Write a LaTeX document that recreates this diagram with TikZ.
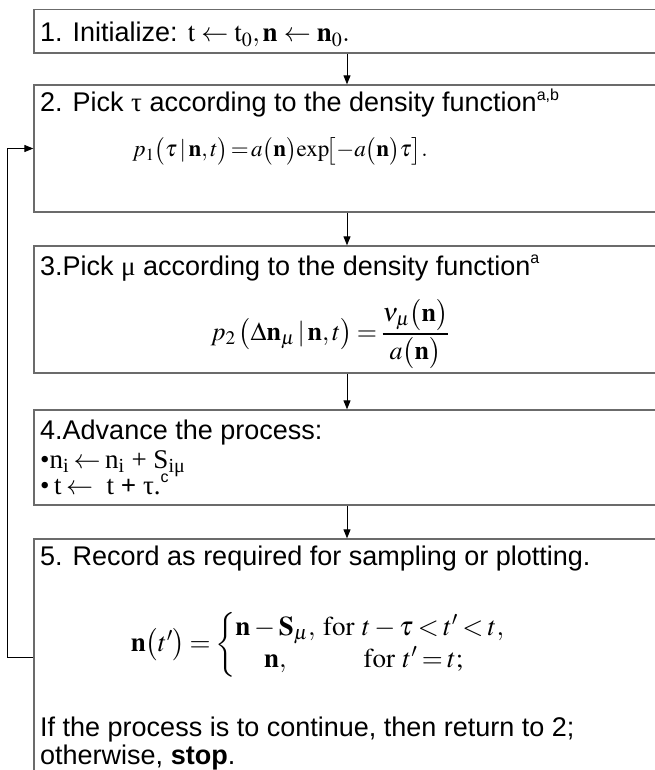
\documentclass[tikz,border=0pt]{standalone}
\usepackage{amsmath}
\usepackage{mathptmx}
\usepackage[no-math]{fontspec}
\setmainfont{Liberation Sans}
\newfontfamily\serif{Liberation Serif}
\usetikzlibrary{arrows.meta,positioning}
\definecolor{boxgray}{gray}{0.42}
\newcommand{\supnote}[1]{\raisebox{0.42em}{\fontsize{16}{18}\selectfont #1}}

\begin{document}
\begin{tikzpicture}[x=1pt,y=-1pt,
  stepbox/.style={draw=boxgray, line width=1.3pt, minimum width=626pt, inner sep=0pt},
  txt/.style={anchor=base west, inner sep=0pt, font=\fontsize{27}{32}\selectfont},
  eq/.style={inner sep=0pt},
  flow/.style={-{Triangle[length=9pt,width=7pt]}, line width=0.9pt}]
  \useasboundingbox (0,0) rectangle (655,770);
  \clip (0,0) rectangle (655,770);

  % step 1
  \node[stepbox, minimum height=43.5pt] (init) at (347,31.25) {};
  \node[txt] (initTxt) at (40,42) {1. Initialize: $\mathrm{t}\leftarrow\mathrm{t}_0, \mathbf{n}\leftarrow\mathbf{n}_0.$};
  % step 2
  \node[stepbox, minimum height=127pt] (pickTau) at (347,148.5) {};
  \node[txt] (pickTauTxt) at (40,112) {2. Pick {\serif τ} according to the density function\supnote{a,b}};
  \node[eq, font=\fontsize{23}{27}\selectfont] (tauEq) at (280,151)
    {$\thickmuskip=2mu\medmuskip=1mu p_1\bigl(\tau\,|\,\mathbf{n},t\bigr)=a\bigl(\mathbf{n}\bigr)\!\exp\!\bigl[-a\bigl(\mathbf{n}\bigr)\tau\bigr].$};
  % step 3
  \node[stepbox, minimum height=127pt] (pickMu) at (347,309.5) {};
  \node[txt] (pickMuTxt) at (40,275) {3.Pick {\serif μ} according to the density function\supnote{a}};
  \node[eq, font=\fontsize{26}{30}\selectfont] (muEq) at (330,334)
    {$\thickmuskip=3mu p_2\left(\Delta\mathbf{n}_\mu\,|\,\mathbf{n},t\right)=\dfrac{\nu_\mu\bigl(\mathbf{n}\bigr)}{a\bigl(\mathbf{n}\bigr)}$};
  % step 4
  \node[stepbox, minimum height=95pt] (advance) at (347,457.5) {};
  \node[txt] (advanceTxt) at (40,439) {4.Advance the process:};
  \node[txt] (advanceN) at (40,468) {\serif •n\textsubscript{i}\,$\leftarrow$\,n\textsubscript{i} + S\textsubscript{iμ}};
  \node[txt] (advanceT) at (40,494) {{\serif •\,t\,$\leftarrow$\ \ t \textbf{+} τ.}\supnote{c}};
  % step 5
  \node[stepbox, minimum height=236pt] (record) at (347,657) {};
  \node[txt] (recordTxt) at (40,565) {5. Record as required for sampling or plotting.};
  \node[eq, font=\fontsize{27}{32}\selectfont] (recordEq) at (318,645)
    {$\thickmuskip=3mu\mathbf{n}\bigl(t'\bigr)=\left\{\begin{array}{@{}c@{\ }c@{}}\mathbf{n}-\mathbf{S}_\mu, & \mathrm{for}\ t-\tau<t'<t,\\ \mathbf{n}, & \mathrm{for}\ t'=t;\end{array}\right.$};
  \node[txt] (recordIf) at (40,736) {If the process is to continue, then return to 2;};
  \node[txt] (recordElse) at (40,764) {otherwise, \textbf{stop}.};

  % connectors
  \draw[flow] (init) -- (pickTau);
  \draw[flow] (pickTau) -- (pickMu);
  \draw[flow] (pickMu) -- (advance);
  \draw[flow] (advance) -- (record);
  \draw[flow] (record.west) -- ++(-26,0) |- (pickTau.west);
\end{tikzpicture}
\end{document}
